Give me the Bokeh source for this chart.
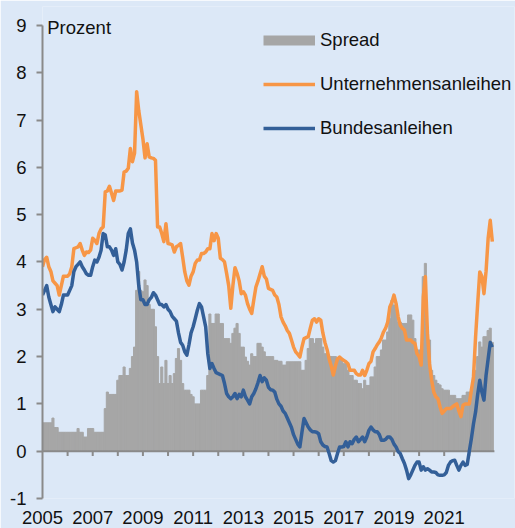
from bokeh.plotting import figure
from bokeh.models import Range1d, FixedTicker, Legend, LegendItem, Label, ColumnDataSource
from bokeh.embed import file_html
from bokeh.resources import INLINE

# ---------------- data (monthly, Jan 2005 - Dec 2022) ----------------
start_year = 2005

corp_yield = [
    3.9, 4.05, 4.1, 3.9, 3.8, 3.6, 3.55, 3.5, 3.3, 3.5, 3.7, 3.7,          # 2005
    3.7, 3.75, 3.9, 4.28, 4.3, 4.32, 4.39, 4.25, 4.14, 4.21, 4.2, 4.25,    # 2006
    4.5, 4.46, 4.39, 4.6, 4.7, 4.74, 5.48, 5.5, 5.6, 5.45, 5.3, 5.5,       # 2007
    5.5, 5.5, 5.52, 5.9, 5.92, 5.98, 6.4, 6.12, 6.3, 7.6, 7.2, 6.9,        # 2008
    6.6, 6.2, 6.5, 6.22, 6.2, 6.19, 6.15, 4.74, 4.74, 4.6, 4.43, 4.81,     # 2009
    4.39, 4.38, 4.36, 4.21, 4.32, 4.35, 4.39, 4.1, 3.79, 3.6, 3.51, 3.7,   # 2010
    3.79, 3.97, 4.04, 4.04, 4.18, 4.18, 4.21, 4.28, 4.28, 4.6, 4.45, 4.6,  # 2011
    4.5, 4.08, 4.05, 4.0, 3.76, 3.5, 3.02, 3.5, 3.88, 3.76, 3.6, 3.33,     # 2012
    3.37, 3.3, 3.12, 3.0, 2.91, 3.2, 3.47, 3.6, 3.75, 3.9, 3.7, 3.64,      # 2013
    3.44, 3.42, 3.4, 3.3, 3.26, 3.1, 2.84, 2.73, 2.65, 2.55, 2.49, 2.35,   # 2014
    2.2, 2.1, 2.05, 1.99, 2.2, 2.38, 2.4, 2.42, 2.6, 2.77, 2.8, 2.73,      # 2015
    2.8, 2.77, 2.5, 2.3, 2.15, 1.95, 1.8, 1.61, 1.8, 1.95, 1.99, 1.95,     # 2016
    1.92, 1.89, 1.85, 1.71, 1.71, 1.71, 1.64, 1.61, 1.61, 1.71, 1.6, 1.71, # 2017
    1.85, 1.9, 2.1, 2.17, 2.25, 2.31, 2.4, 2.52, 2.6, 2.73, 3.05, 3.15,    # 2018
    3.3, 3.12, 2.84, 2.66, 2.6, 2.56, 2.35, 2.35, 2.35, 2.3, 2.28, 2.06,   # 2019
    2.0, 1.82, 3.26, 3.69, 2.49, 1.85, 1.5, 1.25, 1.15, 1.11, 0.94, 0.8,   # 2020
    0.85, 0.9, 0.9, 0.9, 0.94, 0.97, 1.0, 0.85, 0.73, 0.97, 1.0, 1.0,      # 2021
    1.0, 1.3, 1.57, 2.42, 3.12, 3.79, 3.7, 3.33, 3.8, 4.5, 4.88, 4.43,     # 2022
]

bund_yield = [
    3.3, 3.4, 3.5, 3.26, 3.1, 2.95, 3.05, 3.0, 2.95, 3.1, 3.3, 3.3,        # 2005
    3.3, 3.4, 3.5, 3.8, 3.9, 3.95, 4.0, 3.9, 3.83, 3.75, 3.72, 3.72,       # 2006
    3.9, 4.04, 4.0, 4.1, 4.25, 4.6, 4.57, 4.32, 4.32, 4.25, 4.14, 4.28,    # 2007
    4.0, 3.95, 3.83, 4.0, 4.25, 4.6, 4.7, 4.4, 4.25, 4.0, 3.5, 3.2,        # 2008
    3.2, 3.1, 3.1, 3.2, 3.25, 3.35, 3.3, 3.2, 3.1, 3.1, 3.05, 3.1,         # 2009
    3.0, 2.95, 2.85, 2.8, 2.75, 2.5, 2.3, 2.24, 2.1, 2.03, 2.25, 2.5,      # 2010
    2.63, 2.8, 2.98, 3.12, 3.05, 2.84, 2.63, 2.06, 1.75, 1.85, 1.75, 1.66, # 2011
    1.64, 1.62, 1.6, 1.43, 1.22, 1.15, 1.11, 1.15, 1.22, 1.11, 1.2, 1.15,  # 2012
    1.29, 1.15, 1.08, 1.0, 1.15, 1.22, 1.32, 1.45, 1.6, 1.47, 1.55, 1.5,   # 2013
    1.35, 1.3, 1.29, 1.25, 1.1, 1.0, 0.95, 0.85, 0.8, 0.7, 0.6, 0.5,       # 2014
    0.35, 0.25, 0.15, 0.09, 0.4, 0.69, 0.6, 0.51, 0.45, 0.41, 0.41, 0.4,   # 2015
    0.37, 0.2, 0.13, 0.1, 0.09, -0.05, -0.2, -0.23, -0.2, -0.05, 0.09, 0.09,  # 2016
    0.1, 0.2, 0.09, 0.2, 0.16, 0.25, 0.3, 0.2, 0.25, 0.3, 0.2, 0.3,        # 2017
    0.44, 0.51, 0.45, 0.41, 0.41, 0.35, 0.23, 0.23, 0.25, 0.3, 0.3, 0.25,  # 2018
    0.15, 0.09, -0.01, -0.05, -0.16, -0.26, -0.4, -0.58, -0.5, -0.4, -0.3, -0.23,     # 2019
    -0.23, -0.4, -0.33, -0.4, -0.37, -0.4, -0.44, -0.44, -0.45, -0.5, -0.51, -0.51,   # 2020
    -0.5, -0.45, -0.3, -0.23, -0.2, -0.19, -0.3, -0.4, -0.3, -0.23, -0.3, -0.28,      # 2021
    0.0, 0.27, 0.58, 0.83, 1.2, 1.5, 1.25, 1.08, 1.6, 1.95, 2.3, 2.2,      # 2022
]

spread = [
    0.6, 0.6, 0.6, 0.6, 0.6, 0.7, 0.5, 0.5, 0.4, 0.4, 0.4, 0.4,            # 2005
    0.4, 0.4, 0.4, 0.4, 0.4, 0.48, 0.4, 0.4, 0.3, 0.3, 0.48, 0.48,         # 2006
    0.48, 0.4, 0.4, 0.4, 0.4, 0.4, 0.9, 1.25, 1.2, 1.2, 1.2, 1.2,          # 2007
    1.5, 1.6, 1.6, 1.78, 1.6, 1.6, 1.75, 2.0, 2.2, 3.4, 3.8, 3.4,          # 2008
    3.37, 3.62, 3.5, 3.1, 3.0, 3.0, 2.63, 2.0, 1.43, 1.78, 1.43, 1.92,     # 2009
    1.43, 1.6, 1.43, 1.64, 1.96, 2.17, 1.92, 1.43, 1.29, 1.29, 1.29, 1.2,  # 2010
    1.15, 1.0, 1.0, 1.0, 1.29, 1.29, 1.29, 1.6, 2.9, 2.7, 2.7, 2.9,        # 2011
    2.9, 2.7, 2.7, 2.38, 2.38, 2.38, 2.28, 2.49, 2.6, 2.7, 2.49, 2.2,      # 2012
    2.2, 1.99, 1.9, 1.82, 2.06, 2.0, 2.0, 2.28, 2.28, 2.2, 2.1, 2.0,       # 2013
    2.0, 2.0, 2.0, 1.92, 1.92, 1.9, 1.9, 1.82, 1.82, 1.89, 1.89, 1.89,     # 2014
    1.89, 1.89, 1.89, 1.89, 1.71, 1.71, 1.92, 2.17, 2.38, 2.38, 2.28, 2.38,  # 2015
    2.38, 2.38, 2.2, 2.06, 2.06, 2.0, 2.0, 2.0, 2.0, 1.96, 1.96, 1.96,     # 2016
    1.85, 1.85, 1.71, 1.6, 1.6, 1.5, 1.5, 1.43, 1.43, 1.32, 1.5, 1.39,     # 2017
    1.39, 1.57, 1.57, 1.78, 2.0, 2.0, 2.14, 2.35, 2.35, 2.52, 2.8, 3.19,   # 2018
    3.09, 3.0, 2.73, 2.73, 2.7, 2.7, 2.7, 2.88, 2.88, 2.77, 2.38, 2.14,    # 2019
    2.14, 2.14, 3.69, 3.97, 2.6, 2.35, 1.71, 1.6, 1.5, 1.43, 1.4, 1.32,    # 2020
    1.29, 1.29, 1.29, 1.18, 1.18, 1.18, 1.11, 1.11, 1.11, 1.18, 1.18, 1.25,  # 2021
    1.25, 1.25, 1.71, 1.71, 2.0, 2.31, 2.2, 2.42, 2.42, 2.55, 2.6, 2.3,    # 2022
]

y_ticks = list(range(-1, 10))
y_tick_labels = {t: str(t) for t in y_ticks}   # plain hyphen for "-1"
label_years = list(range(2005, 2022, 2))
tick_years = list(range(2006, 2023))
series_names = ["Spread", "Unternehmensanleihen", "Bundesanleihen"]
axis_x_start, axis_x_end = 2005, 2023
axis_y_start, axis_y_end = -1, 9

# ---------------- styling ----------------
BG = "#dce8f7"
GRAY = "#a6a6a6"
ORANGE = "#f79646"
BLUE = "#335f98"
AXIS = "#8a8a8a"
FONT = "Liberation Sans"
TXT = "#111111"
FS = "18.5px"

months = [start_year + i / 12 for i in range(len(corp_yield))]
src = ColumnDataSource(dict(t=months, corp=corp_yield, bund=bund_yield, spread=spread))

p = figure(frame_width=472, frame_height=492, output_backend="svg", toolbar_location=None,
           x_range=Range1d(axis_x_start, axis_x_end + 0.8),
           y_range=Range1d(axis_y_start, axis_y_end + 0.4),
           background_fill_color=BG, border_fill_color=BG, outline_line_color=None,
           min_border_left=42, min_border_right=1, min_border_top=6, min_border_bottom=30)
p.grid.visible = False

ya = p.yaxis[0]
ya.ticker = FixedTicker(ticks=y_ticks)
ya.major_label_overrides = y_tick_labels
ya.bounds = (axis_y_start, axis_y_end)
ya.axis_line_color = AXIS
ya.axis_line_width = 2
ya.major_tick_line_color = AXIS
ya.major_tick_line_width = 2
ya.major_tick_out = 6
ya.major_tick_in = 0
ya.minor_tick_line_color = None
ya.major_label_text_font = FONT
ya.major_label_text_font_size = FS
ya.major_label_text_color = TXT
ya.major_label_standoff = 10

xa = p.xaxis[0]
xa.ticker = FixedTicker(ticks=label_years)
xa.axis_line_color = None
xa.major_tick_line_color = None
xa.major_tick_out = 0
xa.major_tick_in = 0
xa.minor_tick_line_color = None
xa.minor_tick_out = 0
xa.major_label_text_font = FONT
xa.major_label_text_font_size = FS
xa.major_label_text_color = TXT
xa.major_label_standoff = 12

bars = p.vbar(x="t", top="spread", bottom=0, width=1 / 12, source=src,
              fill_color=GRAY, line_color=GRAY, line_width=1)

# zero line with yearly tick marks
p.segment(x0=[axis_x_start], y0=[0], x1=[axis_x_end], y1=[0], line_color=AXIS, line_width=2)
tick_len = 0.1
p.segment(x0=tick_years, y0=[0] * len(tick_years), x1=tick_years,
          y1=[-tick_len] * len(tick_years), line_color=AXIS, line_width=2)

r_corp = p.line("t", "corp", source=src, line_color=ORANGE, line_width=3.5, line_join="round")
r_bund = p.line("t", "bund", source=src, line_color=BLUE, line_width=3.5, line_join="round")
leg_src = ColumnDataSource(dict(x=[start_year], y=[float("nan")]))
r_leg = p.line("x", "y", source=leg_src, line_color=GRAY, line_width=10)

legend = Legend(items=[LegendItem(label=series_names[0], renderers=[r_leg]),
                       LegendItem(label=series_names[1], renderers=[r_corp]),
                       LegendItem(label=series_names[2], renderers=[r_bund])],
                location=(221, 359), glyph_width=52, glyph_height=20, label_height=20,
                spacing=22, label_standoff=5, padding=0, margin=0,
                border_line_color=None, background_fill_alpha=0,
                label_text_font=FONT, label_text_font_size=FS, label_text_color=TXT)
p.add_layout(legend)

p.add_layout(Label(x=2005.19, y=8.964, text="Prozent", text_font=FONT, text_font_size=FS,
                   text_color=TXT, text_baseline="alphabetic"))

open("out.html", "w").write(file_html(p, INLINE))
